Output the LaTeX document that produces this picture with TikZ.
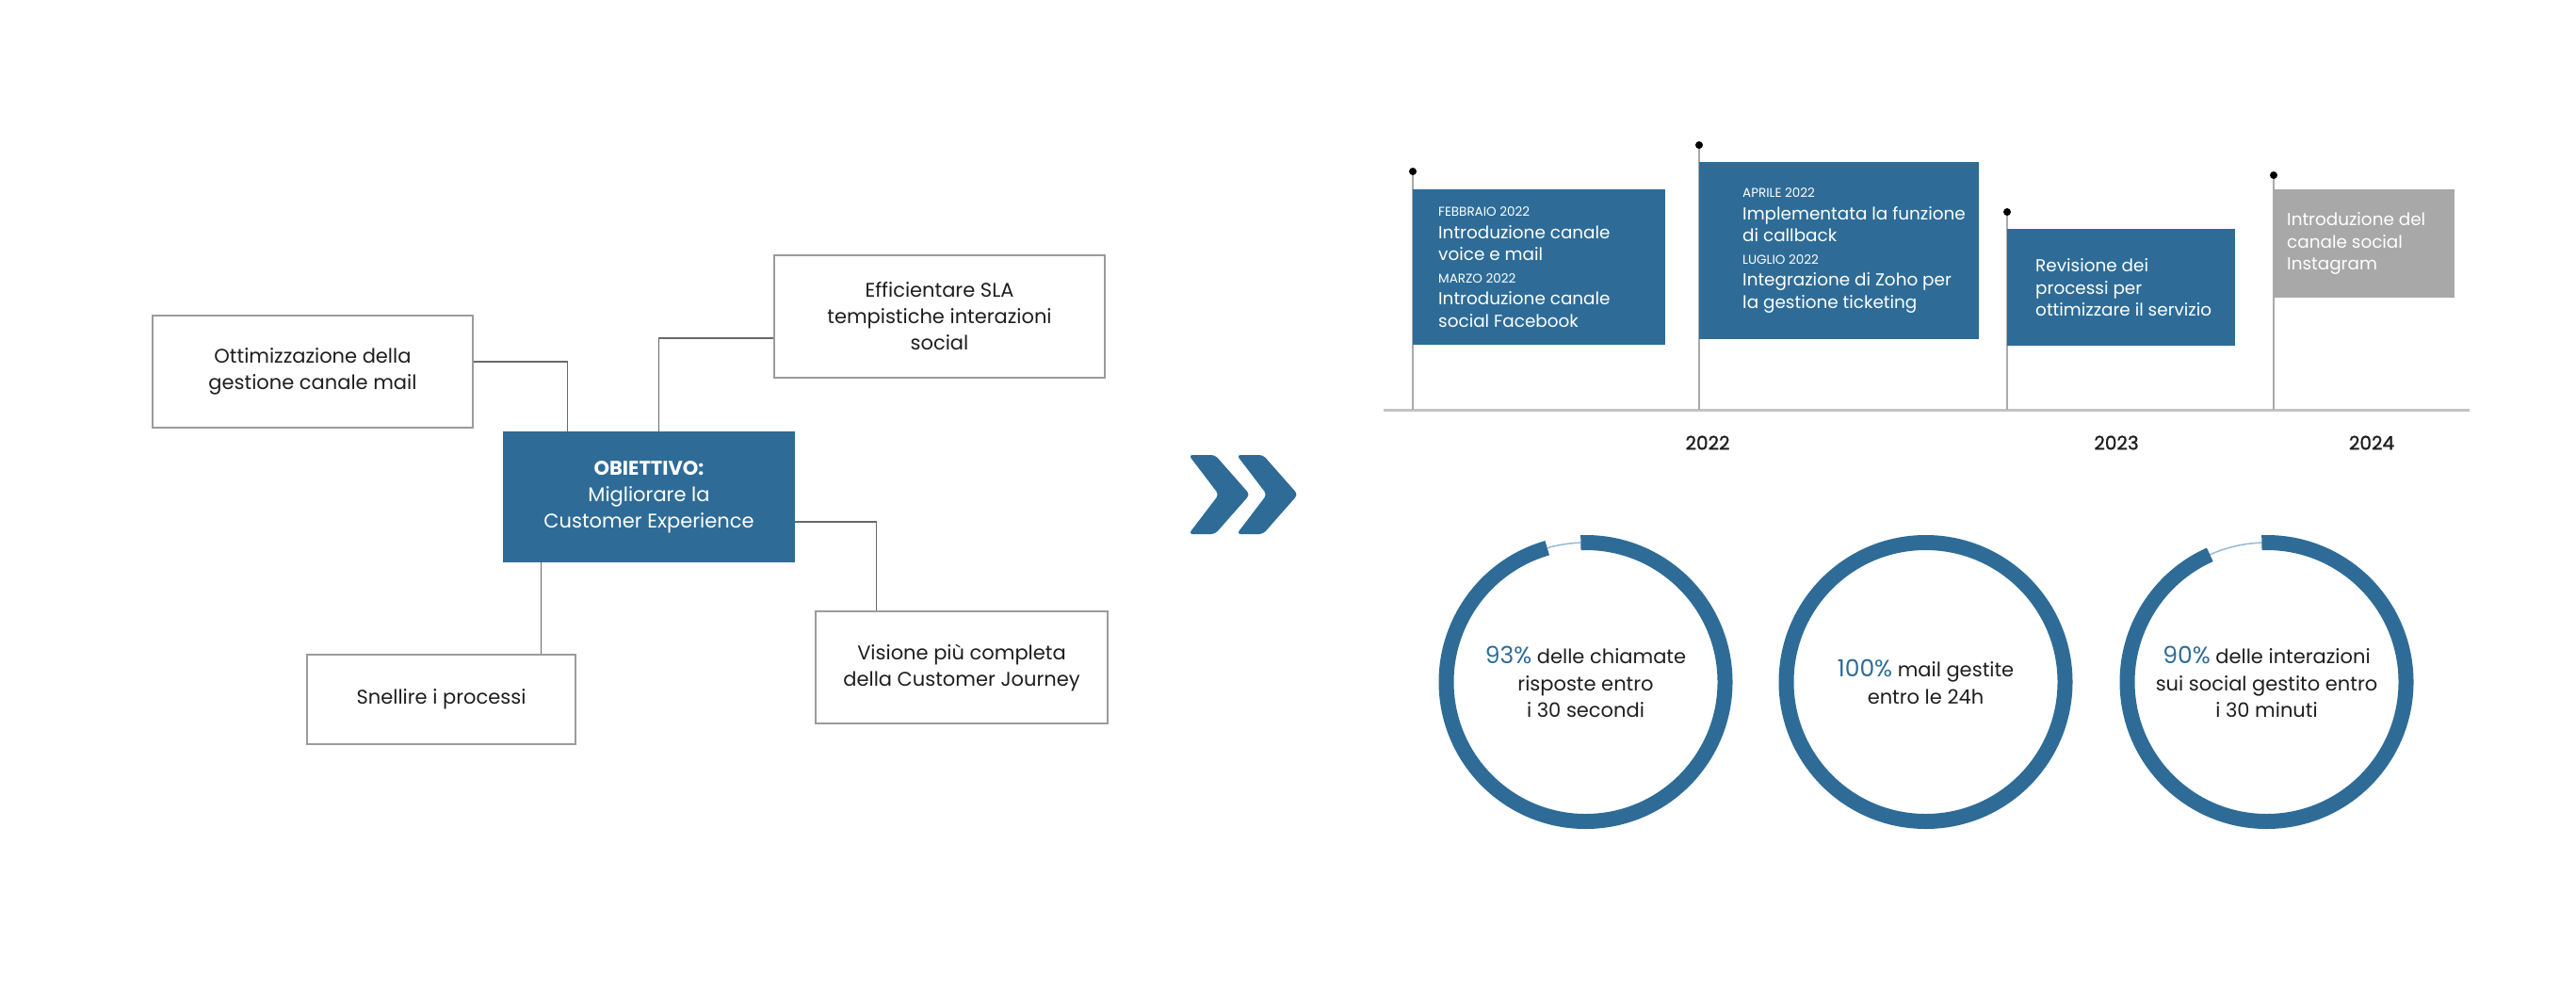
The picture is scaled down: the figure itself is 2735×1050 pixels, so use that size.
\documentclass[tikz,border=0pt]{standalone}
\usepackage{fontspec}
\setmainfont{Poppins}
\newfontfamily\yearfont[FakeBold=1.2]{Poppins}
\usepackage{xcolor}
\usepackage{tikz}
\usetikzlibrary{positioning}

\definecolor{mainblue}{RGB}{46,108,151}
\definecolor{flaggrey}{RGB}{167,168,167}
\definecolor{boxline}{RGB}{155,155,155}
\definecolor{linkgrey}{RGB}{105,105,105}
\definecolor{axisgrey}{RGB}{195,195,195}
\definecolor{polegrey}{RGB}{170,170,170}
\definecolor{trackblue}{RGB}{150,185,212}
\definecolor{inkblack}{RGB}{30,30,30}

\newcommand\monthlbl[1]{{\fontsize{13.5}{15}\selectfont #1}}
\newcommand\pct[1]{{\fontsize{25}{28.5}\selectfont\color{mainblue}#1}}

\begin{document}
\begin{tikzpicture}[x=1pt, y=-1pt,
    goalbox/.style={draw=boxline, line width=1.5pt, fill=white, text=inkblack, align=center, inner sep=0pt, font=\fontsize{21}{28}\selectfont},
    mainbox/.style={fill=mainblue, text=white, align=center, inner sep=0pt, font=\fontsize{21}{28}\selectfont},
    link/.style={draw=linkgrey, line width=1.3pt},
    flagbox/.style={fill=#1, anchor=north west, inner sep=0pt},
    flagtext/.style={text=white, align=left, inner sep=0pt, font=\fontsize{18.4}{23.5}\selectfont},
    pole/.style={draw=polegrey, line width=2.5pt},
    year/.style={text=inkblack, inner sep=0pt, font=\yearfont\fontsize{20}{24}\selectfont},
    ring/.style={draw=mainblue, line width=16pt},
    track/.style={draw=trackblue, line width=1.5pt},
    stat/.style={text=inkblack, align=center, inner sep=0pt, font=\fontsize{21}{28.5}\selectfont}]
    \useasboundingbox (0,0) rectangle (2735,1050);

    % objectives
    \node[goalbox, minimum width=340, minimum height=119] (mail) at (332,394.5) {Ottimizzazione della\\gestione canale mail};
    \node[goalbox, minimum width=351, minimum height=130] (sla) at (997.5,336) {Efficientare SLA\\tempistiche interazioni\\social};
    \node[mainbox, minimum width=310, minimum height=139] (goal) at (689,527.5) {{\bfseries OBIETTIVO:}\\Migliorare la\\Customer Experience};
    \node[goalbox, minimum width=285, minimum height=95] (lean) at (468.5,742.5) {Snellire i processi};
    \node[goalbox, minimum width=310, minimum height=119] (journey) at (1021,708.5) {Visione più completa\\della Customer Journey};
    \draw[link] ([yshift=10.5pt]mail.east) -| ([xshift=69pt]goal.north west);
    \draw[link] ([yshift=-23pt]sla.west) -| ([xshift=166pt]goal.north west);
    \draw[link] ([yshift=-26.5pt]goal.east) -| ([xshift=65pt]journey.north west);
    \draw[link] ([xshift=41pt]goal.south west) -- ([xshift=41pt]goal.south west |- lean.north);

    % chevrons
    \foreach \dx in {0,51}
        \fill[mainblue, rounded corners=4pt, shift={(\dx,0)}] (1262,483) -- (1290,483) -- (1327,525) -- (1290,567) -- (1262,567) -- (1294,525) -- cycle;

    % timeline
    \coordinate (tstart) at (1469,435);
    \coordinate (tend) at (2622,435);
    \draw[draw=axisgrey, line width=3pt] (tstart) -- (tend);
    \foreach \px/\dy in {1500/182, 1804/154, 2131/225, 2414/186} {
        \draw[pole] (\px,\dy) -- (\px,435);
        \fill[black] (\px,\dy) circle[radius=4];
    }
    \node[flagbox=mainblue, minimum width=268, minimum height=165] (feb) at (1500,201) {};
    \node[flagtext, right=27pt of feb.west] (febtxt) {\monthlbl{FEBBRAIO 2022}\\Introduzione canale\\voice e mail\\\monthlbl{MARZO 2022}\\Introduzione canale\\social Facebook};
    \node[flagbox=mainblue, minimum width=297, minimum height=188] (apr) at (1804,172) {};
    \node[flagtext, right=46pt of apr.west] (aprtxt) {\monthlbl{APRILE 2022}\\Implementata la funzione\\di callback\\\monthlbl{LUGLIO 2022}\\Integrazione di Zoho per\\la gestione ticketing};
    \node[flagbox=mainblue, minimum width=242, minimum height=124] (rev) at (2131,243) {};
    \node[flagtext, right=30pt of rev.west] (revtxt) {Revisione dei\\processi per\\ottimizzare il servizio};
    \node[flagbox=flaggrey, minimum width=192, minimum height=115] (insta) at (2414,201) {};
    \node[flagtext, right=14pt of insta.west] (instatxt) {Introduzione del\\canale social\\Instagram};
    \node[year] (y22) at (1813,470) {2022};
    \node[year] (y23) at (2247,470) {2023};
    \node[year] (y24) at (2518,470) {2024};

    % results
    \coordinate (c1) at (1683.5,724);
    \coordinate (c2) at (2044.5,724);
    \coordinate (c3) at (2406.5,724);
    \draw[track] (c1) ++(-106:148) arc[start angle=-106, end angle=-92, radius=148];
    \draw[ring] (c1) ++(-92:148) arc[start angle=-92, end angle=254, radius=148];
    \draw[ring] (c2) circle[radius=148];
    \draw[track] (c3) ++(-114:148) arc[start angle=-114, end angle=-92, radius=148];
    \draw[ring] (c3) ++(-92:148) arc[start angle=-92, end angle=246, radius=148];
    \node[stat] (calls) at (c1) {\pct{93\%} delle chiamate\\risposte entro\\i 30 secondi};
    \node[stat] (mails) at (c2) {\pct{100\%} mail gestite\\entro le 24h};
    \node[stat] (social) at (c3) {\pct{90\%} delle interazioni\\sui social gestito entro\\i 30 minuti};
\end{tikzpicture}
\end{document}
